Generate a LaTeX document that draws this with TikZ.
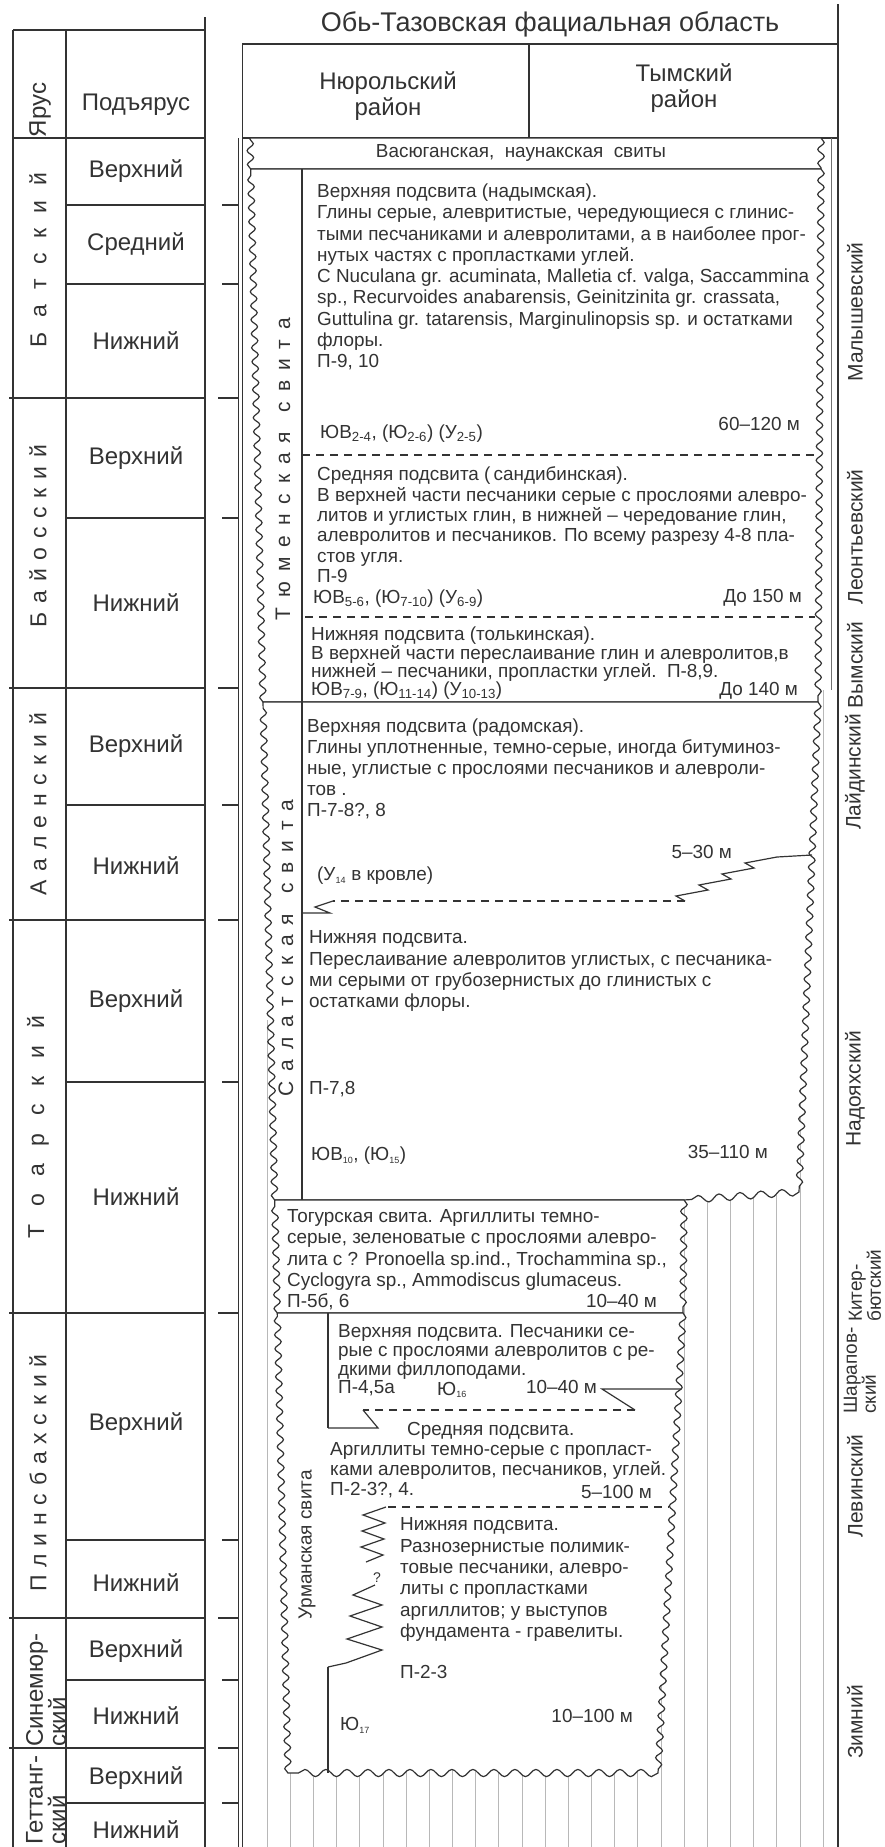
\documentclass[tikz,border=0pt]{standalone}
\usepackage{fontspec}
\setmainfont{Liberation Sans}
\usetikzlibrary{decorations.pathmorphing}
\definecolor{ink}{gray}{0.2}
\definecolor{hatchc}{gray}{0.72}
\newcommand{\sbs}[1]{\textsubscript{#1}}
\newcommand{\tsb}[1]{\textsubscript{\fontsize{9}{9}\selectfont #1}}
\newcommand{\fst}{\rule{0pt}{14.5pt}}
\begin{document}
\begin{tikzpicture}[x=1pt,y=-1pt,
  ln/.style={draw=ink, line width=1.2pt},
  lnthin/.style={draw=ink, line width=0.9pt},
  dsh/.style={draw=ink, line width=1.1pt, dash pattern=on 8pt off 6pt},
  hatchln/.style={draw=hatchc, line width=0.7pt},
  wv/.style={decoration={snake, amplitude=3.2pt, segment length=14pt}},
  wh/.style={decoration={snake, amplitude=3.6pt, segment length=21pt}},
  blk/.style={draw=ink, line width=1.2pt, fill=white},
  tab/.style={font=\fontsize{24}{26}\selectfont, text=ink, inner sep=0pt},
  stg/.style={font=\fontsize{23}{23}\selectfont, text=ink, inner sep=0pt, rotate=90},
  stgtwo/.style={font=\fontsize{24}{23}\selectfont, text=ink, inner sep=0pt, rotate=90, align=left, anchor=west},
  hor/.style={font=\fontsize{21}{21}\selectfont, text=ink, inner sep=0pt, rotate=90},
  hortwo/.style={font=\fontsize{19}{14.5}\selectfont, text=ink, inner sep=0pt, rotate=90, align=left, anchor=west},
  svl/.style={font=\fontsize{21}{21}\selectfont, text=ink, inner sep=0pt, rotate=90},
  desc/.style={font=\fontsize{18.9}{#1}\selectfont, text=ink, inner sep=0pt, align=left, anchor=north west},
  desc/.default=21.25,
  one/.style={font=\fontsize{18.9}{21}\selectfont, text=ink, inner sep=0pt, anchor=base west},
  thk/.style={font=\fontsize{18.9}{21}\selectfont, text=ink, inner sep=0pt, anchor=base east},
]
\fill[white] (0,0) rectangle (884,1847);
\useasboundingbox (0,0) rectangle (884,1847);

% ---------- left table ----------
\draw[ln] (13,30) -- (13,1847);
\draw[ln] (66,30) -- (66,1847);
\draw[ln] (205,17) -- (205,1847);
\draw[ln] (13,30) -- (205,30);
\draw[ln] (13,138) -- (205,138);
\foreach \y in {398,688,920,1313,1618,1748} {\draw[ln] (9,\y) -- (205,\y); \draw[ln] (218,\y) -- (238,\y);}
\foreach \y in {205,284,518,805,1082,1540,1680,1803} {\draw[ln] (66,\y) -- (205,\y); \draw[ln] (222,\y) -- (238,\y);}

% ---------- frames right ----------
\draw[lnthin] (238,138) -- (238,1847);
\draw[lnthin] (242.5,44) -- (242.5,1847);
\draw[ln] (242,44) -- (838,44);
\draw[ln] (529,44) -- (529,138);
\draw[ln] (242,138) -- (838,138);
\draw[draw=ink, line width=2.4pt] (838,4) -- (838,1847);
\draw[draw=ink!70, line width=0.8pt] (831,138) -- (831,690);

% ---------- hatching ----------
\foreach \k in {1,...,24} {\draw[hatchln] ({267+23.17*\k},690) -- ({267+23.17*\k},1847);}
\draw[hatchln] (267,1020) -- (267,1847);

% ---------- blocks ----------
\path[blk] (250,138) -- (821,138) decorate[wv]{-- (821,169)} -- (250.7,169) decorate[wv]{-- (250,138)};
\path[blk] (250.7,169) -- (821,169) decorate[wv]{-- (818,702)} -- (263,702) decorate[wv]{-- (250.7,169)};
\path[blk] (263,702) -- (818,702) decorate[wv]{-- (799,1192)} decorate[wh]{-- (684,1200)} -- (274.7,1200) decorate[wv]{-- (263,702)};
\path[blk] (274.7,1200) -- (684,1200) decorate[wv]{-- (683,1313)} -- (277.3,1313) decorate[wv]{-- (274.7,1200)};
\path[blk] (277.3,1313) -- (683,1313) decorate[wv]{-- (658,1773)} decorate[wh]{-- (288,1773)} decorate[wv]{-- (277.3,1313)};

% inner lines
\draw[ln] (302,169) -- (302,1200);
\draw[ln] (328,1313) -- (328,1428);
\draw[ln] (328,1667) -- (328,1773);

% boundaries inside
\draw[dsh] (302,455) -- (816,455);
\draw[dsh] (305,617) -- (815,617);
\draw[ln] (812,855) -- (777,857) -- (745,863) -- (754,868) -- (722,874) -- (731,879) -- (699,885) -- (708,890) -- (676,896) -- (685,901);
\draw[dsh] (685,901) -- (333,901);
\draw[ln] (333,901) -- (315,907) -- (330,913) -- (302,913);
\draw[ln] (681,1389) -- (602,1389) -- (635,1410);
\draw[dsh] (635,1410) -- (363,1410);
\draw[ln] (363,1410) -- (378,1428) -- (328,1428);
\draw[dsh] (388,1507) -- (669,1507);
\draw[ln] (386,1507) -- (363,1515) -- (385,1523) -- (362,1531) -- (384,1539) -- (361,1547) -- (383,1555) -- (366,1562);
\draw[ln] (375,1585) -- (353,1595) -- (382,1605) -- (350,1616) -- (382,1627) -- (347,1639) -- (382,1650) -- (346,1663) -- (328,1667);

% ---------- headers ----------
\node[font=\fontsize{27}{27}\selectfont, text=ink, inner sep=0pt] (title) at (550,24) {Обь-Тазовская фациальная область};
\node[tab, rotate=90] (hY) at (40,110) {Ярус};
\node[tab] (hP) at (136,105) {Подъярус};
\node[tab, align=center] (hN) at (388,96) {Нюрольский\\район};
\node[tab, align=center] (hT) at (684,88) {Тымский\\район};
\node[font=\fontsize{18.9}{21}\selectfont, text=ink, inner sep=0pt] (vas) at (521,153) {Васюганская,\ \ наунакская\ \ свиты};

% ---------- substages ----------
\node[tab] (u1) at (136,171.5) {Верхний};
\node[tab] (u2) at (136,244.5) {Средний};
\node[tab] (u3) at (136,341) {Нижний};
\node[tab] (u4) at (136,458) {Верхний};
\node[tab] (u5) at (136,603) {Нижний};
\node[tab] (u6) at (136,746.5) {Верхний};
\node[tab] (u7) at (136,866) {Нижний};
\node[tab] (u8) at (136,1001) {Верхний};
\node[tab] (u9) at (136,1197) {Нижний};
\node[tab] (u10) at (136,1424) {Верхний};
\node[tab] (u11) at (136,1583) {Нижний};
\node[tab] (u12) at (136,1651) {Верхний};
\node[tab] (u13) at (136,1716) {Нижний};
\node[tab] (u14) at (136,1778) {Верхний};
\node[tab] (u15) at (136,1830) {Нижний};

% ---------- stages ----------
\node[stg] (s1) at (38,260) {\makebox[174pt]{Б\hfill а\hfill т\hfill с\hfill к\hfill и\hfill й}};
\node[stg] (s2) at (38,536) {\makebox[182pt]{Б\hfill а\hfill й\hfill о\hfill с\hfill с\hfill к\hfill и\hfill й}};
\node[stg] (s3) at (38,804) {\makebox[182pt]{А\hfill а\hfill л\hfill е\hfill н\hfill с\hfill к\hfill и\hfill й}};
\node[stg] (s4) at (38,1127) {\makebox[223pt]{Т\hfill о\hfill а\hfill р\hfill с\hfill к\hfill и\hfill й}};
\node[stg] (s5) at (38,1473) {\makebox[237pt]{П\hfill л\hfill и\hfill н\hfill с\hfill б\hfill а\hfill х\hfill с\hfill к\hfill и\hfill й}};
\node[stgtwo] (s6) at (46,1747) {Синемюр-\\ский};
\node[stgtwo] (s7) at (46,1845) {Геттанг-\\ский};

% ---------- suite labels ----------
\node[svl] (tyum) at (283,469) {\makebox[302pt]{Т\hfill ю\hfill м\hfill е\hfill н\hfill с\hfill к\hfill а\hfill я\hfill\hfill с\hfill в\hfill и\hfill т\hfill а}};
\node[svl] (salat) at (286,948) {\makebox[297pt]{С\hfill а\hfill л\hfill а\hfill т\hfill с\hfill к\hfill а\hfill я\hfill\hfill с\hfill в\hfill и\hfill т\hfill а}};
\node[font=\fontsize{19}{19}\selectfont, text=ink, inner sep=0pt, rotate=90] (urm) at (307,1545) {Урманская свита};

% ---------- descriptions ----------
\node[desc] (tu) at (317,183) {\fst Верхняя подсвита (надымская).\\
Глины серые, алевритистые, чередующиеся с глинис-\\
тыми песчаниками и алевролитами, а в наиболее прог-\\
нутых частях с пропластками углей.\\
С Nuculana gr. acuminata, Malletia cf. valga, Saccammina\\
sp., Recurvoides anabarensis, Geinitzinita gr. crassata,\\
Guttulina gr. tatarensis, Marginulinopsis sp. и остатками\\
флоры.\\
П-9, 10};
\node[one] (tuh) at (320,438.5) {ЮВ\sbs{2-4}, (Ю\sbs{2-6}) (У\sbs{2-5})};
\node[thk] (tut) at (800,430.5) {60–120 м};

\node[desc=20.4] (tm) at (317,466) {\fst Средняя подсвита (\,сандибинская).\\
В верхней части песчаники серые с прослоями алевро-\\
литов и углистых глин, в нижней – чередование глин,\\
алевролитов и песчаников. По всему разрезу 4-8 пла-\\
стов угля.\\
П-9};
\node[one] (tmh) at (313,603.5) {ЮВ\sbs{5-6}, (Ю\sbs{7-10}) (У\sbs{6-9})};
\node[thk] (tmt) at (802,602.5) {До 150 м};

\node[desc=18.3] (tl) at (311,626) {\fst Нижняя подсвита (толькинская).\\
В верхней части переслаивание глин и алевролитов,в\\
нижней – песчаники, пропластки углей.\ \ П-8,9.\\
ЮВ\sbs{7-9}, (Ю\sbs{11-14}) (У\sbs{10-13})};
\node[thk] (tlt) at (798,695.5) {До 140 м};

\node[desc=21] (su) at (307,718) {\fst Верхняя подсвита (радомская).\\
Глины уплотненные, темно-серые, иногда битуминоз-\\
ные, углистые с прослоями песчаников и алевроли-\\
тов .\\
П-7-8?, 8};
\node[one] (suh) at (317,880.5) {(У\tsb{14} в кровле)};
\node[thk] (sut) at (732,858.5) {5–30 м};

\node[desc=21.3] (sl) at (309,929) {\fst Нижняя подсвита.\\
Переслаивание алевролитов углистых, с песчаника-\\
ми серыми от грубозернистых до глинистых с\\
остатками флоры.};
\node[one] (slp) at (309,1094.5) {П-7,8};
\node[one] (slh) at (311,1160.5) {ЮВ\tsb{10}, (Ю\tsb{15})};
\node[thk] (slt) at (768,1158.5) {35–110 м};

\node[desc=21.2] (tg) at (287,1208) {\fst Тогурская свита. Аргиллиты темно-\\
серые, зеленоватые с прослоями алевро-\\
лита с ? Pronoella sp.ind., Trochammina sp.,\\
Cyclogyra sp., Ammodiscus glumaceus.\\
П-5б, 6};
\node[thk] (tgt) at (657,1307.5) {10–40 м};

\node[desc=18.7] (uu) at (338,1323) {\fst Верхняя подсвита. Песчаники се-\\
рые с прослоями алевролитов с ре-\\
дкими филлоподами.\\
П-4,5а};
\node[one] (uuh) at (437,1395) {Ю\tsb{16}};
\node[thk] (uut) at (597,1393.5) {10–40 м};

\node[one] (umh) at (407,1435.5) {Средняя подсвита.};
\node[desc=20] (um) at (330,1441) {\fst Аргиллиты темно-серые с пропласт-\\
ками алевролитов, песчаников, углей.\\
П-2-3?, 4.};
\node[thk] (umt) at (652,1498.5) {5–100 м};

\node[desc=21.4] (ul) at (400,1516) {\fst Нижняя подсвита.\\
Разнозернистые полимик-\\
товые песчаники, алевро-\\
литы с пропластками\\
аргиллитов; у выступов\\
фундамента - гравелиты.};
\node[one] (ulp) at (400,1678.5) {П-2-3};
\node[thk] (ult) at (633,1722.5) {10–100 м};
\node[one] (ulh) at (340,1730.5) {Ю\tsb{17}};
\node[font=\fontsize{14}{14}\selectfont, text=ink, inner sep=0pt] (q) at (377,1578) {?};

% ---------- right column ----------
\node[hor] (r1) at (855,312) {Малышевский};
\node[hor] (r2) at (855,537) {Леонтьевский};
\node[hor] (r3) at (855,665) {Вымский};
\node[hor] (r4) at (855,772) {Лайдинский};
\node[hor] (r5) at (855,1089) {Надояхский};
\node[hortwo] (r6) at (865,1322) {Китер-\\бютский};
\node[hortwo] (r7) at (860,1414) {Шарапов-\\ский};
\node[hor] (r8) at (855,1486) {Левинский};
\node[hor] (r9) at (855,1722) {Зимний};
\end{tikzpicture}
\end{document}
